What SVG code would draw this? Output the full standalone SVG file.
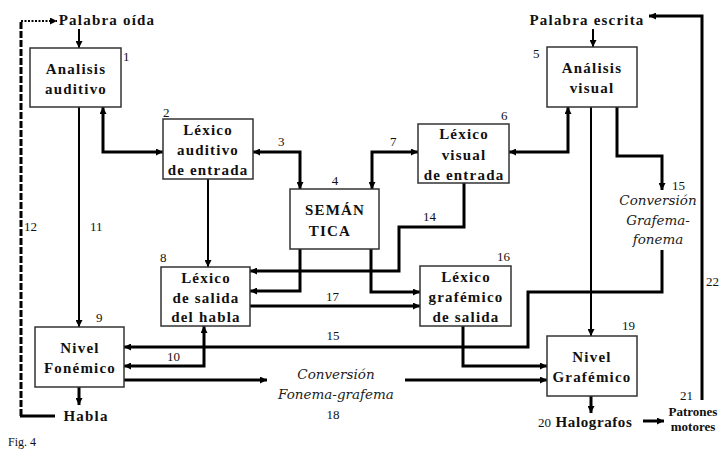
<svg xmlns="http://www.w3.org/2000/svg" width="724" height="451" viewBox="0 0 724 451">
<defs>
<marker id="a" viewBox="0 0 10 10" refX="10" refY="5" markerWidth="8" markerHeight="7" markerUnits="userSpaceOnUse" orient="auto-start-reverse"><path d="M0,0 L10,5 L0,10 z" fill="#000"/></marker>
</defs>
<style>
.box{fill:#fff;stroke:#333;stroke-width:1.5}
.t{font-family:"Liberation Serif",serif;font-weight:bold;font-size:15px;letter-spacing:1.2px;text-anchor:middle;fill:#111}
.n{font-family:"Liberation Serif",serif;font-size:13px;fill:#111}
.it{font-family:"DejaVu Serif",serif;font-style:italic;font-size:13.5px;text-anchor:middle;fill:#222}
.c{fill:none;stroke:#000;stroke-width:3}
.c2{fill:none;stroke:#000;stroke-width:2}
.ae{marker-end:url(#a)}
.ab{marker-start:url(#a);marker-end:url(#a)}
.sm{font-size:13px;letter-spacing:0px}
</style>
<rect width="724" height="451" fill="#fff"/>

<g id="connectors">
<path class="c2 ae" d="M79,29 V48"/>
<path class="c2 ae" d="M79,107 V327"/>
<path class="c ab" d="M103,107 V152 H163"/>
<path class="c ab" d="M253,152 H300 V189"/>
<path class="c2 ae" d="M208,179 V267"/>
<path class="c ab" d="M418,152 H372 V189"/>
<path class="c ab" d="M509,152 H568 V107"/>
<path class="c2 ae" d="M593,29 V47"/>
<path class="c2 ae" d="M591,107 V336"/>
<path class="c ae" d="M617,107 V156 H662 V190"/>
<path class="c ae" d="M662,250 V292 H528 V347 H124"/>
<path class="c ae" d="M300,249 V291 H250"/>
<path class="c ae" d="M371,249 V292 H420"/>
<path class="c ae" d="M464,183 V227 H399 V271 H250"/>
<path class="c ae" d="M250,306 H420"/>
<path class="c ab" d="M204,326 V366 H124"/>
<path class="c ae" d="M463,326 V366 H547"/>
<path class="c ae" d="M124,380 H267"/>
<path class="c ae" d="M405,380 H547"/>
<path class="c ae" d="M591,396 V413"/>
<path class="c ae" d="M643,421 H664"/>
<path class="c ae" d="M702,400 V16 H649"/>
<path class="c ae" d="M79,387 V405"/>
<path class="c" d="M20,416 H55"/>
<path class="c" d="M21,416 V22" stroke-dasharray="7,2"/>
<path class="c2 ae" d="M21,21 H57" stroke-dasharray="2,1.5"/>
</g>

<g id="n1"><rect class="box" x="30" y="48" width="91" height="59"/><text class="t" x="76" y="74">Analisis</text><text class="t" x="76" y="94">auditivo</text><text class="n" x="123" y="61">1</text></g>
<g id="n2"><rect class="box" x="163" y="119" width="90" height="60"/><text class="t" x="208" y="135">Léxico</text><text class="t" x="208" y="155">auditivo</text><text class="t" x="208" y="175">de entrada</text><text class="n" x="163" y="117">2</text></g>
<g id="n4"><rect class="box" x="290" y="189" width="89" height="60"/><text class="t" x="335" y="215">SEMÁN</text><text class="t" x="330" y="236">TICA</text><text class="n" x="335" y="185" text-anchor="middle">4</text></g>
<g id="n5"><rect class="box" x="547" y="47" width="90" height="60"/><text class="t" x="592" y="73">Análisis</text><text class="t" x="592" y="93">visual</text><text class="n" x="533" y="58">5</text></g>
<g id="n6"><rect class="box" x="418" y="124" width="91" height="59"/><text class="t" x="464" y="139">Léxico</text><text class="t" x="464" y="160">visual</text><text class="t" x="464" y="180">de entrada</text><text class="n" x="501" y="120">6</text></g>
<g id="n8"><rect class="box" x="161" y="267" width="89" height="59"/><text class="t" x="206" y="283">Léxico</text><text class="t" x="206" y="303">de salida</text><text class="t" x="206" y="322">del habla</text><text class="n" x="160" y="262">8</text></g>
<g id="n9"><rect class="box" x="35" y="327" width="89" height="60"/><text class="t" x="80" y="353">Nivel</text><text class="t" x="80" y="373">Fonémico</text><text class="n" x="96" y="322">9</text></g>
<g id="n15"><text class="it" x="658" y="205">Conversión</text><text class="it" x="658" y="225">Grafema-</text><text class="it" x="658" y="244">fonema</text><text class="n" x="672" y="190">15</text></g>
<g id="n16"><rect class="box" x="420" y="266" width="91" height="60"/><text class="t" x="466" y="282">Léxico</text><text class="t" x="466" y="302">grafémico</text><text class="t" x="466" y="322">de salida</text><text class="n" x="497" y="261">16</text></g>
<g id="n18"><text class="it" x="336" y="379">Conversión</text><text class="it" x="336" y="399">Fonema-grafema</text><text class="n" x="333" y="419" text-anchor="middle">18</text></g>
<g id="n19"><rect class="box" x="547" y="336" width="90" height="60"/><text class="t" x="592" y="362">Nivel</text><text class="t" x="592" y="382">Grafémico</text><text class="n" x="622" y="330">19</text></g>
<g id="in1"><text class="t" x="107" y="25">Palabra oída</text></g>
<g id="in2"><text class="t" x="587" y="25">Palabra escrita</text></g>
<g id="out1"><text class="t" x="86" y="421">Habla</text></g>
<g id="out2"><text class="n" x="538" y="427">20</text><text class="t" x="594" y="427" style="letter-spacing:0.6px">Halografos</text></g>
<g id="out3"><text class="t sm" x="693" y="416">Patrones</text><text class="t sm" x="693" y="431">motores</text><text class="n" x="680" y="400">21</text></g>

<g id="labels">
<text class="n" x="278" y="146">3</text>
<text class="n" x="390" y="146">7</text>
<text class="n" x="167" y="361">10</text>
<text class="n" x="90" y="231">11</text>
<text class="n" x="24" y="231">12</text>
<text class="n" x="423" y="221">14</text>
<text class="n" x="333" y="340" text-anchor="middle">15</text>
<text class="n" x="326" y="301">17</text>
<text class="n" x="706" y="286">22</text>
<text class="n" x="8" y="446" style="font-size:12px">Fig. 4</text>
</g>
</svg>
